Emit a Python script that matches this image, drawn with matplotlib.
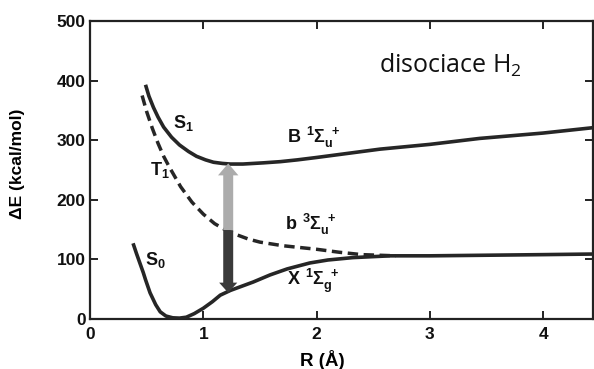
import matplotlib
matplotlib.use("Agg")
import matplotlib.pyplot as plt
from matplotlib.patches import FancyArrow

# ---- data ----
s0_R = [0.38, 0.41, 0.44, 0.47, 0.49, 0.53, 0.58, 0.62, 0.67, 0.73, 0.79, 0.85, 0.92, 1.00, 1.08, 1.15,
        1.24, 1.34, 1.44, 1.59, 1.74, 1.94, 2.10, 2.32, 2.65, 3.00, 3.50, 4.00, 4.44]
s0_E = [127, 110, 94, 78, 66, 44, 24, 12, 5, 2, 1.5, 3, 9, 18, 29, 40,
        48, 55, 62, 74, 84, 94, 99, 103, 106, 106, 107, 108, 109]

s1_R = [0.49, 0.52, 0.56, 0.60, 0.65, 0.72, 0.79, 0.87, 0.94, 1.02, 1.09, 1.17, 1.24, 1.35,
        1.53, 1.68, 1.83, 2.00, 2.12, 2.56, 3.00, 3.44, 4.00, 4.44]
s1_E = [393, 374, 355, 339, 322, 305, 292, 281, 273, 267, 263, 261, 260, 260,
        262, 264, 267, 271, 274, 285, 293, 303, 312, 321]

t1_R = [0.46, 0.50, 0.55, 0.60, 0.65, 0.70, 0.80, 0.90, 1.00, 1.10, 1.20, 1.30, 1.40, 1.50,
        1.70, 2.00, 2.20, 2.40, 2.70]
t1_E = [375, 348, 320, 295, 273, 255, 222, 196, 176, 160, 149, 141, 134, 129,
        123, 117, 112, 108, 106]

arrow_R = 1.22
arrow_E_mid = 149
arrow_E_up = 261
arrow_E_down = 44

x_ticks = [0, 1, 2, 3, 4]
y_ticks = [0, 100, 200, 300, 400, 500]

labels = [
    (0.73, 329, r"$\mathregular{S_1}$"),
    (0.53, 250, r"$\mathregular{T_1}$"),
    (0.485, 99, r"$\mathregular{S_0}$"),
    (1.74, 305, r"$\mathregular{B\ ^1\Sigma_u^{\ +}}$"),
    (1.72, 158, r"$\mathregular{b\ ^3\Sigma_u^{\ +}}$"),
    (1.74, 64, r"$\mathregular{X\ ^1\Sigma_g^{\ +}}$"),
]

# ---- figure ----
plt.rcParams['font.family'] = ['Liberation Sans', 'DejaVu Sans']
fig = plt.figure(figsize=(5.94, 3.69), dpi=100)
ax = fig.add_axes([90/594, 50/369, 503/594, 298/369])

lc = '#262626'
ax.plot(t1_R, t1_E, color=lc, lw=2.5, dashes=(3.0, 1.6), zorder=2)
ax.plot(s0_R, s0_E, color=lc, lw=2.6, zorder=3, solid_capstyle='butt', solid_joinstyle='round')
ax.plot(s1_R, s1_E, color=lc, lw=2.6, zorder=3, solid_capstyle='butt', solid_joinstyle='round')

# arrows
ax.add_patch(FancyArrow(arrow_R, arrow_E_mid, 0, arrow_E_up - arrow_E_mid,
                        width=0.088, head_width=0.18, head_length=20,
                        length_includes_head=True, color='#acacac', lw=0, zorder=4))
ax.add_patch(FancyArrow(arrow_R, arrow_E_mid, 0, arrow_E_down - arrow_E_mid,
                        width=0.088, head_width=0.16, head_length=17,
                        length_includes_head=True, color='#3a3a3a', lw=0, zorder=4))

for x, y, t in labels:
    ax.text(x, y, t, fontsize=13, fontweight='bold', ha='left', va='center', color='#111')

fig.text(379/594, 1 - 65/369, "disociace H$\\mathregular{_2}$", fontsize=18,
         family='Open Sans', ha='left', va='center', color='#111')

ax.set_xlim(0, 4.44)
ax.set_ylim(0, 500)
ax.set_xticks(x_ticks)
ax.set_yticks(y_ticks)
ax.tick_params(direction='in', top=True, right=True, length=6, width=1.3,
               labelsize=12.5, colors='#111')
ax.tick_params(axis='x', pad=6)
ax.tick_params(axis='y', pad=3)
for lab in ax.get_xticklabels() + ax.get_yticklabels():
    lab.set_fontweight('bold')
for sp in ax.spines.values():
    sp.set_linewidth(1.6)
    sp.set_color('#222')

ax.set_xlabel("R (Å)", fontsize=13.5, fontweight='bold')
ax.xaxis.set_label_coords((322-90)/503, -0.105)
ax.set_ylabel("ΔE (kcal/mol)", fontsize=12.5, fontweight='bold')
ax.yaxis.set_label_coords(-0.13, 0.52)

fig.savefig("out.png", dpi=100)
